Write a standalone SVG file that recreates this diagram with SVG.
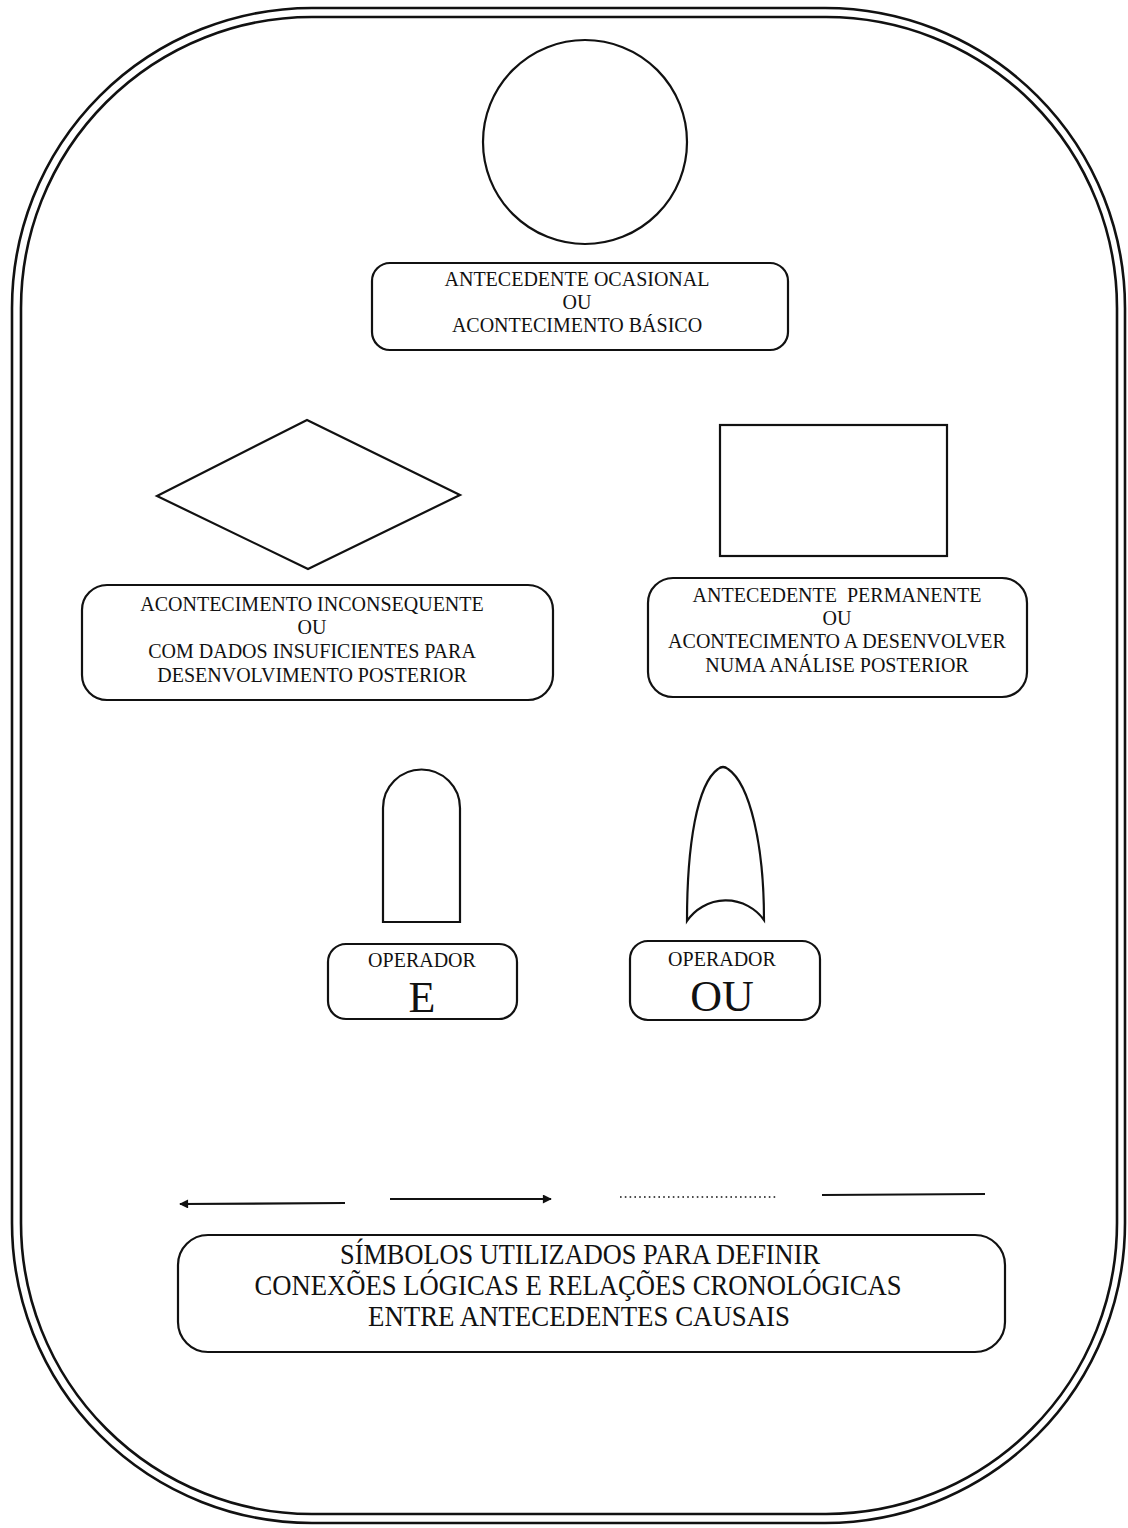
<svg xmlns="http://www.w3.org/2000/svg" width="1128" height="1528" viewBox="0 0 1128 1528">
<style>
.b{fill:none;stroke:#111;stroke-width:2.6}
.s{fill:none;stroke:#111;stroke-width:2.2}
.t{font-family:"Liberation Serif","Times New Roman",serif;font-size:20px;fill:#111;text-anchor:middle}
.big{font-size:44px}
.bt{font-family:"Liberation Serif","Times New Roman",serif;font-size:29px;fill:#111;text-anchor:middle}
</style>
<defs>
<marker id="ah" viewBox="0 0 10 10" refX="9" refY="5" markerWidth="10" markerHeight="9" markerUnits="userSpaceOnUse" orient="auto">
<path d="M0,0 L10,5 L0,10 Z" fill="#111"/>
</marker>
</defs>
<rect width="1128" height="1528" fill="#fff"/>
<g id="border">
<rect class="b" x="12" y="8" width="1113" height="1515" rx="300" ry="300"/>
<rect class="b" x="21" y="17" width="1096" height="1497" rx="291" ry="291"/>
</g>
<g id="basic-event">
<circle class="s" cx="585" cy="142" r="102"/>
<rect class="s" x="372" y="263" width="416" height="87" rx="18"/>
<text class="t" x="577" y="286">ANTECEDENTE OCASIONAL</text>
<text class="t" x="577" y="309">OU</text>
<text class="t" x="577" y="332">ACONTECIMENTO BÁSICO</text>
</g>
<g id="undeveloped-event">
<polygon class="s" points="157,496 307,420 460,495 308,569"/>
<rect class="s" x="82" y="585" width="471" height="115" rx="25"/>
<text class="t" x="312" y="611">ACONTECIMENTO INCONSEQUENTE</text>
<text class="t" x="312" y="634">OU</text>
<text class="t" x="312" y="658">COM DADOS INSUFICIENTES PARA</text>
<text class="t" x="312" y="682">DESENVOLVIMENTO POSTERIOR</text>
</g>
<g id="permanent-event">
<rect class="s" x="720" y="425" width="227" height="131"/>
<rect class="s" x="648" y="578" width="379" height="119" rx="25"/>
<text class="t" x="837" y="602" xml:space="preserve">ANTECEDENTE  PERMANENTE</text>
<text class="t" x="837" y="625">OU</text>
<text class="t" x="837" y="648">ACONTECIMENTO A DESENVOLVER</text>
<text class="t" x="837" y="672">NUMA ANÁLISE POSTERIOR</text>
</g>
<g id="and-gate">
<path class="s" d="M383,922 L383,808 A38.5,38.5 0 0 1 460,808 L460,922 Z"/>
<rect class="s" x="328" y="944" width="189" height="75" rx="18"/>
<text class="t" x="422" y="967">OPERADOR</text>
<text class="t big" x="422" y="1012">E</text>
</g>
<g id="or-gate">
<path class="s" d="M687,921 C687,845 697,784 718,769 Q723,765 728,769 C750,784 764,845 764,920 A47,47 0 0 0 687,921 Z"/>
<rect class="s" x="630" y="941" width="190" height="79" rx="18"/>
<text class="t" x="722" y="966">OPERADOR</text>
<text class="t big" x="722" y="1011">OU</text>
</g>
<g id="connectors">
<line class="s" x1="345" y1="1203" x2="180" y2="1204" marker-end="url(#ah)"/>
<line class="s" x1="390" y1="1199" x2="551" y2="1199" marker-end="url(#ah)"/>
<line x1="620" y1="1197" x2="776" y2="1197" stroke="#111" stroke-width="1.6" stroke-dasharray="1.6 3.2"/>
<line class="s" x1="822" y1="1195" x2="985" y2="1194"/>
</g>
<g id="legend">
<rect class="s" x="178" y="1235" width="827" height="117" rx="30"/>
<text class="bt" x="580" y="1264" textLength="480" lengthAdjust="spacingAndGlyphs">SÍMBOLOS UTILIZADOS PARA DEFINIR</text>
<text class="bt" x="578" y="1295" textLength="647" lengthAdjust="spacingAndGlyphs">CONEXÕES LÓGICAS E RELAÇÕES CRONOLÓGICAS</text>
<text class="bt" x="579" y="1326" textLength="422" lengthAdjust="spacingAndGlyphs">ENTRE ANTECEDENTES CAUSAIS</text>
</g>
</svg>
